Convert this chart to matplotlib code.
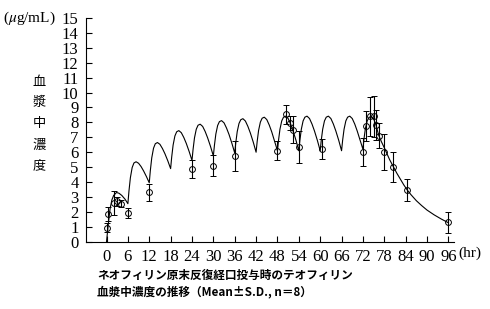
import matplotlib.pyplot as plt

plt.switch_backend("Agg")
plt.rcParams["mathtext.fontset"] = "stix"

# simulated curve (hr, ug/mL)
curve_t = [
    0.0, 0.3, 0.6, 1.0, 1.5, 2.0, 2.8, 3.5, 4.3, 5.2,
    6.0, 6.3, 6.7, 7.2, 7.7, 8.3, 9.0, 9.7, 10.4, 11.2,
    12.0, 12.3, 12.7, 13.2, 13.7, 14.3, 15.0, 15.7, 16.4, 17.2,
    18.0, 18.3, 18.7, 19.2, 19.7, 20.3, 21.0, 21.7, 22.4, 23.2,
    24.0, 24.3, 24.7, 25.2, 25.7, 26.3, 27.0, 27.7, 28.4, 29.2,
    30.0, 30.3, 30.7, 31.2, 31.7, 32.3, 33.0, 33.7, 34.4, 35.2,
    36.0, 36.3, 36.7, 37.2, 37.7, 38.3, 39.0, 39.7, 40.4, 41.2,
    42.0, 42.3, 42.7, 43.2, 43.7, 44.3, 45.0, 45.7, 46.4, 47.2,
    48.0, 48.3, 48.7, 49.2, 49.7, 50.3, 51.0, 51.7, 52.4, 53.2,
    54.0, 54.3, 54.7, 55.2, 55.7, 56.3, 57.0, 57.7, 58.4, 59.2,
    60.0, 60.3, 60.7, 61.2, 61.7, 62.3, 63.0, 63.7, 64.4, 65.2,
    66.0, 66.3, 66.7, 67.2, 67.7, 68.3, 69.0, 69.7, 70.4, 71.2,
    72.0, 72.3, 72.7, 73.2, 73.7, 74.3, 75.0, 75.7, 76.4, 77.2,
    78.0, 78.7, 79.5, 80.6, 81.5, 82.5, 83.5, 84.5, 85.5, 87.0,
    88.5, 90.0, 92.0, 94.0, 96.0,
]
curve_c = [
    0.0, 0.7, 1.4, 2.2, 2.8, 3.1, 3.3, 3.25, 3.1, 2.85,
    2.55, 3.39, 4.29, 4.97, 5.28, 5.36, 5.26, 5.04, 4.75, 4.37,
    3.95, 4.76, 5.62, 6.27, 6.57, 6.65, 6.53, 6.25, 5.9, 5.43,
    4.9, 5.67, 6.48, 7.09, 7.37, 7.45, 7.31, 6.99, 6.59, 6.05,
    5.45, 6.18, 6.96, 7.54, 7.81, 7.88, 7.73, 7.39, 6.96, 6.39,
    5.75, 6.46, 7.22, 7.79, 8.05, 8.12, 7.97, 7.62, 7.19, 6.6,
    5.95, 6.64, 7.38, 7.93, 8.18, 8.25, 8.09, 7.73, 7.28, 6.68,
    6.0, 6.71, 7.46, 8.02, 8.28, 8.35, 8.19, 7.82, 7.36, 6.74,
    6.1, 6.8, 7.54, 8.1, 8.35, 8.42, 8.26, 7.89, 7.42, 6.8,
    6.1, 6.8, 7.54, 8.1, 8.35, 8.42, 8.26, 7.89, 7.42, 6.8,
    6.1, 6.8, 7.54, 8.1, 8.35, 8.42, 8.26, 7.89, 7.42, 6.8,
    6.1, 6.8, 7.54, 8.1, 8.35, 8.42, 8.26, 7.89, 7.42, 6.8,
    6.2, 6.9, 7.6, 8.1, 8.33, 8.4, 8.25, 7.8, 7.15, 6.7,
    6.3, 5.93, 5.5, 5.0, 4.6, 4.2, 3.8, 3.45, 3.15, 2.75,
    2.42, 2.12, 1.8, 1.52, 1.27,
]

# observed mean and S.D.
obs_t = [0.25, 0.5, 2, 3, 4, 6, 12, 24, 30, 36,
         48, 50.5, 51.5, 52.5, 54, 60.5,
         72, 73, 74, 75, 75.7, 76.5, 78, 80.5, 84.3, 96]
obs_mean = [0.93, 1.85, 2.6, 2.7, 2.55, 1.9, 3.3, 4.88, 5.1, 5.75,
            6.1, 8.55, 7.95, 7.5, 6.35, 6.2,
            6.02, 7.75, 8.4, 8.4, 7.8, 7.1, 6.02, 4.99, 3.46, 1.29]
obs_sd = [0.3, 0.45, 0.8, 0.3, 0.25, 0.33, 0.55, 0.6, 0.72, 1.0,
          0.65, 0.65, 0.45, 0.9, 1.1, 0.67,
          0.93, 1.0, 1.3, 1.4, 1.0, 0.85, 1.2, 1.0, 0.73, 0.7]

y_ticks = list(range(0, 16))
x_ticks = list(range(0, 97, 6))

serif = "Liberation Serif"
jp = "Noto Sans CJK JP"

fig = plt.figure(figsize=(4.9, 3.09), dpi=100)
ax = fig.add_axes([0.1745, 0.2178, 0.7515, 0.7239])

ax.plot(curve_t, curve_c, color="black", linewidth=0.8)
ax.errorbar(obs_t, obs_mean, yerr=obs_sd, fmt="o", ms=4.2, mfc="none",
            mec="black", mew=0.7, ecolor="black", elinewidth=0.8,
            capsize=2.2, capthick=0.8)

ax.set_xlim(-5.9, 97.5)
ax.set_ylim(0, 15)
ax.set_xticks(x_ticks)
ax.set_yticks(y_ticks)
for side in ("top", "right"):
    ax.spines[side].set_visible(False)
for side in ("left", "bottom"):
    ax.spines[side].set_linewidth(0.8)
ax.tick_params(direction="in", length=4, width=0.8, labelsize=12, pad=5)
for label in ax.get_xticklabels() + ax.get_yticklabels():
    label.set_family(serif)

fig.text(3 / 490, 1 - 18 / 309, r"($\mu$g/mL)", family=serif, fontsize=11,
         ha="left", va="center")
fig.text(458 / 490, 1 - 253 / 309, "(hr)", family=serif, fontsize=11,
         ha="left", va="center")
for i, ch in enumerate("血漿中濃度"):
    fig.text(39 / 490, 1 - (82 + 21 * i) / 309, ch, family=jp, fontsize=9.5,
             ha="center", va="center")

fig.text(97 / 490, 1 - 275 / 309, "ネオフィリン原末反復経口投与時のテオフィリン",
         family=jp, fontweight="bold", fontsize=8.4, ha="left", va="center")
fig.text(97 / 490, 1 - 292 / 309, "血漿中濃度の推移（Mean±S.D., n＝8）",
         family=jp, fontweight="bold", fontsize=8.4, ha="left", va="center")

fig.savefig("out.png", dpi=100)
